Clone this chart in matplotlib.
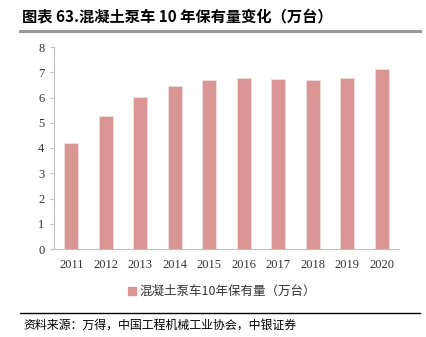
import matplotlib
matplotlib.use("Agg")
import matplotlib.pyplot as plt
from matplotlib.lines import Line2D
from matplotlib.patches import Patch

plt.rcParams['font.family'] = ['Noto Sans CJK SC', 'DejaVu Sans']

years = ['2011', '2012', '2013', '2014', '2015', '2016', '2017', '2018', '2019', '2020']
values = [4.2, 5.28, 6.02, 6.45, 6.68, 6.76, 6.74, 6.69, 6.76, 7.13]
series_name = '混凝土泵车10年保有量（万台）'
title = '图表 63.混凝土泵车 10 年保有量变化（万台）'
source = '资料来源：万得，中国工程机械工业协会，中银证券'
yticks = [0, 1, 2, 3, 4, 5, 6, 7, 8]

bar_color = '#D99694'
W, H = 427, 337
fig = plt.figure(figsize=(W / 100, H / 100), dpi=100)
ax = fig.add_axes([54 / W, 1 - 249 / H, (399 - 54) / W, (249 - 47) / H])

x = list(range(len(years)))
ax.bar(x, values, width=0.4, color=bar_color, edgecolor='#F2DCDB', linewidth=0.6)
ax.set_xlim(-0.5, len(years) - 0.5)
ax.set_ylim(0, 8)
ax.set_yticks(yticks)
ax.set_xticks(x)
ax.set_xticklabels(years)

serif = ['Liberation Serif', 'DejaVu Serif']
for lab in ax.get_xticklabels() + ax.get_yticklabels():
    lab.set_fontfamily(serif)
    lab.set_fontsize(9)
    lab.set_color('#333333')

for s in ['top', 'right']:
    ax.spines[s].set_visible(False)
ax.spines['left'].set_color('#BFBFBF')
ax.spines['bottom'].set_color('#BFBFBF')
ax.spines['left'].set_linewidth(0.8)
ax.spines['bottom'].set_linewidth(0.8)
ax.tick_params(axis='y', length=3, color='#BFBFBF', pad=4)
ax.tick_params(axis='x', length=0, pad=7)

# Title
fig.text(22 / W, 1 - 17 / H, title, fontsize=11, fontweight='bold',
         ha='left', va='center', color='#000000')
fig.add_artist(Line2D([20 / W, 420 / W], [1 - 31 / H, 1 - 31 / H],
                      color='#999999', linewidth=2.2, transform=fig.transFigure))

# Legend
handle = Patch(facecolor=bar_color, edgecolor=bar_color)
fig.legend([handle], [series_name], loc='center', bbox_to_anchor=(222 / W, 1 - 291.5 / H),
           frameon=False, fontsize=9, handlelength=0.6, handleheight=0.6,
           handletextpad=0.3, labelcolor='#333333')

# Bottom line & source
fig.add_artist(Line2D([20 / W, 420 / W], [1 - 313 / H, 1 - 313 / H],
                      color='#000000', linewidth=1.0, transform=fig.transFigure))
fig.text(23 / W, 1 - 325 / H, source, fontsize=8.6, style='italic',
         ha='left', va='center', color='#000000')

fig.savefig('out.png', dpi=100)
